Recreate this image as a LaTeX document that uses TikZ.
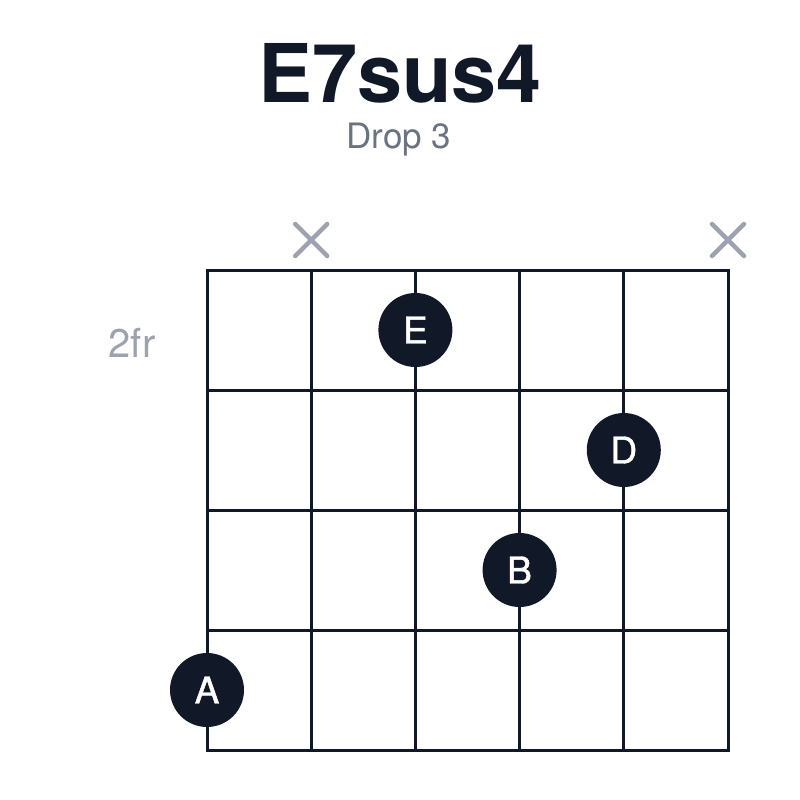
\documentclass[tikz,border=0pt]{standalone}
\usepackage{fontspec}
\setmainfont{TeX Gyre Heros}
\newfontfamily\medfont[FakeBold=1.2]{TeX Gyre Heros}
\definecolor{ink}{HTML}{111827}
\definecolor{sub}{HTML}{6B7280}
\definecolor{muted}{HTML}{9CA3AF}
\begin{document}
\begin{tikzpicture}[x=1pt,y=-1pt,
  gridline/.style={draw=ink,line width=3pt},
  finger/.style={circle,fill=ink,minimum size=74pt,inner sep=0pt,text=white,font=\medfont\fontsize{37}{37}\selectfont},
  mute/.style={draw=muted,line width=4.5pt,line cap=round}]
\useasboundingbox (0,0) rectangle (800,800);
\node[font=\fontsize{81}{81}\selectfont\bfseries,text=ink,anchor=base,inner sep=0pt] (title) at (400,102) {E7sus4};
\node[font=\fontsize{35}{35}\selectfont,text=sub,anchor=base,inner sep=0pt] (sub) at (399,148) {Drop 3};
\node[font=\fontsize{40}{40}\selectfont,text=muted,anchor=base,inner sep=0pt] (fr) at (132,357) {2fr};
\foreach \i in {0,...,5} {
  \draw[gridline] ({207+104.2*\i},270) -- ({207+104.2*\i},750);
}
\foreach \j in {0,...,4} {
  \draw[gridline,line cap=rect] (207,{270+120*\j}) -- (728,{270+120*\j});
}
\foreach \cx/\nm in {311.2/m1,728/m2} {
  \coordinate (\nm) at (\cx,240);
  \draw[mute] ([shift={(-16,-16)}]\nm) -- ([shift={(16,16)}]\nm);
  \draw[mute] ([shift={(-16,16)}]\nm) -- ([shift={(16,-16)}]\nm);
}
\node[finger] (e) at (415.4,330) {E};
\node[finger] (d) at (623.8,450) {D};
\node[finger] (b) at (519.6,570) {B};
\node[finger] (a) at (207,690) {A};
\end{tikzpicture}
\end{document}
